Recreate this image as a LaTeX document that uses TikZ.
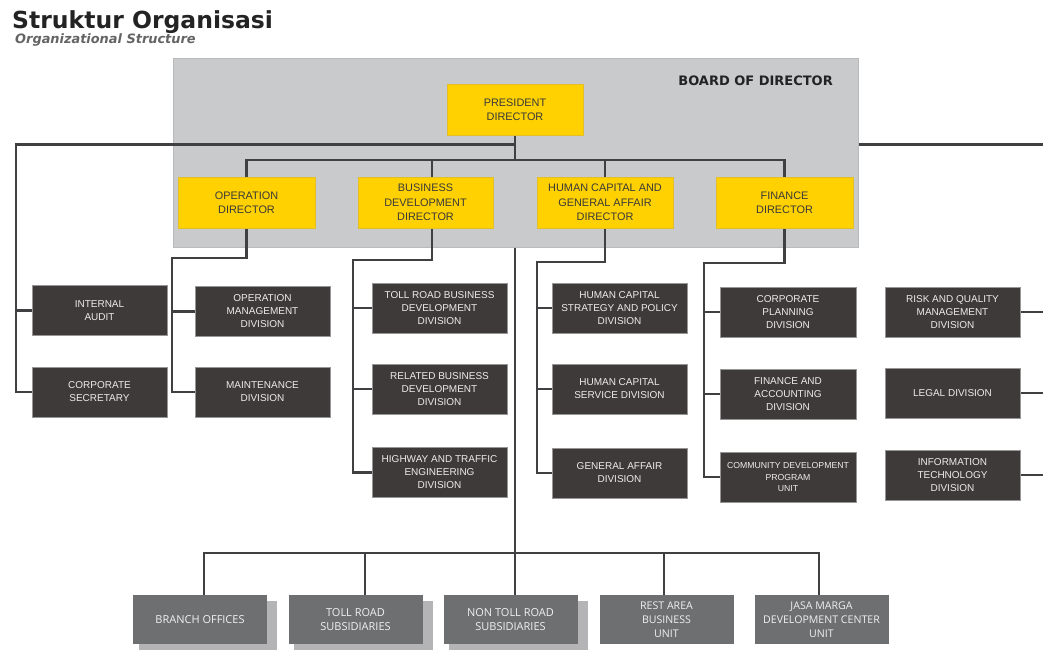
\documentclass[tikz,border=0pt]{standalone}
\usepackage{fontspec}
\setmainfont{Liberation Sans}
\newfontfamily\titlefont{DejaVu Sans}
\newfontfamily\botfont{Open Sans}
\usetikzlibrary{calc}
\definecolor{boardgray}{RGB}{201,202,203}
\definecolor{boardedge}{RGB}{185,186,188}
\definecolor{diryellow}{RGB}{255,209,0}
\definecolor{diredge}{RGB}{228,190,40}
\definecolor{dirtext}{RGB}{58,58,58}
\definecolor{divdark}{RGB}{62,58,57}
\definecolor{divedge}{RGB}{150,150,150}
\definecolor{divtext}{RGB}{236,236,236}
\definecolor{botgray}{RGB}{110,111,113}
\definecolor{bottext}{RGB}{240,240,240}
\definecolor{linecol}{RGB}{64,63,65}
\definecolor{shadowcol}{RGB}{180,180,182}
\definecolor{titlecol}{RGB}{35,35,35}
\definecolor{subcol}{RGB}{100,100,100}
\pgfdeclarelayer{bg}
\pgfdeclarelayer{lines}
\pgfsetlayers{bg,lines,main}
\tikzset{
  boardbox/.style={fill=boardgray, draw=boardedge, line width=0.6pt, inner sep=0pt},
  dirbox/.style={fill=diryellow, draw=diredge, line width=0.6pt, minimum width=136pt, minimum height=51pt, align=center, text=dirtext, font=\fontsize{10.9}{14.5}\selectfont, inner sep=0pt},
  divbox/.style={fill=divdark, draw=divedge, line width=0.8pt, minimum width=135pt, minimum height=50pt, align=center, text=divtext, font=\fontsize{10}{13}\selectfont, inner sep=0pt},
  botbox/.style={fill=botgray, minimum width=134pt, minimum height=49pt, align=center, text=bottext, font=\botfont\fontsize{11}{14.5}\selectfont, inner sep=0pt},
  shadowbox/.style={fill=shadowcol},
  conn/.style={draw=linecol, line width=2.6pt, line join=miter},
}
\begin{document}
\begin{tikzpicture}[x=1pt,y=-1pt]
\useasboundingbox (0,0) rectangle (1043,649);
% titles
\node[anchor=base west, inner sep=0pt, text=titlecol, font=\titlefont\bfseries\fontsize{23.5}{26}\selectfont] (title) at (12,28) {Struktur Organisasi};
\node[anchor=base west, inner sep=0pt, text=subcol, font=\titlefont\bfseries\itshape\fontsize{12.9}{14}\selectfont] (subtitle) at (15,43) {Organizational Structure};
% board
\begin{pgfonlayer}{bg}
\node[boardbox, anchor=north west, minimum width=685pt, minimum height=189pt] (board) at (173,58) {};
\end{pgfonlayer}
\node[anchor=base east, inner sep=0pt, text=titlecol, font=\titlefont\bfseries\fontsize{13}{15}\selectfont] (boardlabel) at (833,85) {BOARD OF DIRECTOR};
% directors
\node[dirbox] (pres) at (515,109.5) {PRESIDENT\\DIRECTOR};
\node[dirbox, minimum width=137pt] (opdir) at (246.5,202.5) {OPERATION\\DIRECTOR};
\node[dirbox, minimum width=135pt] (bddir) at (425.5,202.5) {BUSINESS\\DEVELOPMENT\\DIRECTOR};
\node[dirbox] (hcdir) at (605,202.5) {HUMAN CAPITAL AND\\GENERAL AFFAIR\\DIRECTOR};
\node[dirbox, minimum width=137pt] (findir) at (784.5,202.5) {FINANCE\\DIRECTOR};
% divisions
\node[divbox] (ia) at (99.5,310.5) {INTERNAL\\AUDIT};
\node[divbox] (cs) at (99.5,392) {CORPORATE\\SECRETARY};
\node[divbox] (omd) at (262.5,311.5) {OPERATION\\MANAGEMENT\\DIVISION};
\node[divbox] (maint) at (262.5,392) {MAINTENANCE\\DIVISION};
\node[divbox] (trbd) at (439.5,308) {TOLL ROAD BUSINESS\\DEVELOPMENT\\DIVISION};
\node[divbox] (rbd) at (439.5,389) {RELATED BUSINESS\\DEVELOPMENT\\DIVISION};
\node[divbox] (hted) at (439.5,472.5) {HIGHWAY AND TRAFFIC\\ENGINEERING\\DIVISION};
\node[divbox] (hcsp) at (619.5,308) {HUMAN CAPITAL\\STRATEGY AND POLICY\\DIVISION};
\node[divbox] (hcsd) at (619.5,389) {HUMAN CAPITAL\\SERVICE DIVISION};
\node[divbox] (gad) at (619.5,473) {GENERAL AFFAIR\\DIVISION};
\node[divbox, minimum width=136pt] (cpd) at (788,312) {CORPORATE\\PLANNING\\DIVISION};
\node[divbox, minimum width=136pt] (fad) at (788,394) {FINANCE AND\\ACCOUNTING\\DIVISION};
\node[divbox, minimum width=136pt, font=\fontsize{8.7}{11.5}\selectfont] (cdpu) at (788,477) {COMMUNITY DEVELOPMENT\\PROGRAM\\UNIT};
\node[divbox] (rqmd) at (952.5,312) {RISK AND QUALITY\\MANAGEMENT\\DIVISION};
\node[divbox] (legal) at (952.5,393) {LEGAL DIVISION};
\node[divbox] (itd) at (952.5,475) {INFORMATION\\TECHNOLOGY\\DIVISION};
% bottom units
\node[botbox] (bo) at (200,619.5) {BRANCH OFFICES};
\node[botbox] (trs) at (355.5,619.5) {TOLL ROAD\\SUBSIDIARIES};
\node[botbox] (ntrs) at (510.5,619.5) {NON TOLL ROAD\\SUBSIDIARIES};
\node[botbox, font=\botfont\fontsize{10.6}{13.8}\selectfont] (rab) at (666.5,619.5) {REST AREA\\BUSINESS\\UNIT};
\node[botbox, font=\botfont\fontsize{10.6}{13.8}\selectfont] (jm) at (821.5,619.5) {JASA MARGA\\DEVELOPMENT CENTER\\UNIT};
\begin{pgfonlayer}{bg}
\fill[shadowbox] ($(bo.north west)+(6,6)$) rectangle ($(bo.south east)+(10,6)$);
\fill[shadowbox] ($(trs.north west)+(6,6)$) rectangle ($(trs.south east)+(10,6)$);
\fill[shadowbox] ($(ntrs.north west)+(6,6)$) rectangle ($(ntrs.south east)+(10,6)$);
\end{pgfonlayer}
% junction coordinates
\coordinate (ctl) at (16,144.5);
\coordinate (redge) at (1043,144.5);
\coordinate (dbus) at (515,160);
\coordinate (bdx) at (432,0);
\coordinate (opj) at (172,258);
\coordinate (bdj) at (353,260);
\coordinate (hcj) at (537,262);
\coordinate (finj) at (704,263);
\coordinate (bbl) at (204,553);
\coordinate (bbr) at (819,553);
\coordinate (d2) at (365,553);
\coordinate (d3) at (515,553);
\coordinate (d4) at (664,553);
\coordinate (rq) at (1043,312);
\coordinate (lg) at (1043,393);
\coordinate (it) at (1043,475);
\begin{pgfonlayer}{lines}
% president to left staff
\draw[conn] (pres.south) -- (pres.south |- ctl) -- (ctl) |- (cs.west);
\draw[conn] (ctl |- ia.west) -- (ia.west);
\draw[conn] (board.east |- redge) -- (redge);
% president to directors
\draw[conn] (pres.south) -- (dbus);
\draw[conn] (opdir.north) |- (dbus) -| (findir.north);
\draw[conn] (bddir.north -| bdx) -- (bdx |- dbus);
\draw[conn] (hcdir.north) -- (hcdir.north |- dbus);
% operation
\draw[conn] (opdir.south) |- (opj) |- (maint.west);
\draw[conn] (opj |- omd.west) -- (omd.west);
% business development
\draw[conn] (bddir.south -| bdx) |- (bdj) |- (hted.west);
\draw[conn] (bdj |- trbd.west) -- (trbd.west);
\draw[conn] (bdj |- rbd.west) -- (rbd.west);
% human capital
\draw[conn] (hcdir.south) |- (hcj) |- (gad.west);
\draw[conn] (hcj |- hcsp.west) -- (hcsp.west);
\draw[conn] (hcj |- hcsd.west) -- (hcsd.west);
% finance
\draw[conn] (findir.south) |- (finj) |- (cdpu.west);
\draw[conn] (finj |- cpd.west) -- (cpd.west);
\draw[conn] (finj |- fad.west) -- (fad.west);
% right column
\draw[conn] (rqmd.east) -- (rq);
\draw[conn] (legal.east) -- (lg);
\draw[conn] (itd.east) -- (it);
% trunk and bottom units
\draw[conn] (board.south -| d3) -- (d3) -- (d3 |- ntrs.north);
\draw[conn] (bo.north -| bbl) |- (bbr) -- (bbr |- jm.north);
\draw[conn] (d2) -- (d2 |- trs.north);
\draw[conn] (d4) -- (d4 |- rab.north);
\end{pgfonlayer}
\end{tikzpicture}
\end{document}
